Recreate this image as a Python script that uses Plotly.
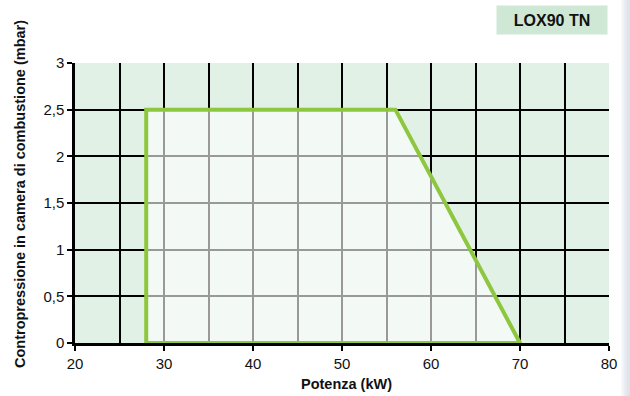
import plotly.graph_objects as go

# Working area of burner LOX90 TN
potenza_kw = [28, 28, 56, 70, 28]
contropressione_mbar = [0, 2.5, 2.5, 0, 0]

x_ticks = [20, 30, 40, 50, 60, 70, 80]
y_ticks = [0, 0.5, 1, 1.5, 2, 2.5, 3]
y_tick_labels = ["0", "0,5", "1", "1,5", "2", "2,5", "3"]

L, R, T, B = 75, 21, 63, 53
PW, PH = 630 - L - R, 396 - T - B

def px_x(px):
    return (px - L) / PW

def px_y(py):
    return (396 - B - py) / PH

fig = go.Figure()
fig.add_trace(go.Scatter(
    x=potenza_kw, y=contropressione_mbar,
    mode="lines", fill="toself",
    fillcolor="rgba(255,255,255,0.6)",
    line=dict(color="#8dc63f", width=4),
    hoverinfo="skip", showlegend=False,
))

# light gradient at the right edge of the page
n = 6
for i in range(n):
    fig.add_shape(type="rect", xref="paper", yref="paper",
                  x0=px_x(621 + i * 1.5), x1=px_x(630),
                  y0=px_y(396), y1=px_y(0), layer="below", line_width=0,
                  fillcolor="rgba(205,210,225,0.16)")

fig.add_annotation(
    text="<b>LOX90 TN</b>", xref="paper", yref="paper",
    x=px_x(552), y=px_y(20), xanchor="center", yanchor="middle",
    showarrow=False, font=dict(family="Liberation Sans, Arial", size=16, color="#111"),
    bgcolor="#cfe8d5", width=108, height=26,
)

fig.add_annotation(
    text="<b>Contropressione in camera di combustione (mbar)</b>",
    xref="paper", yref="paper", x=px_x(20), y=px_y(194),
    xanchor="center", yanchor="middle", textangle=-90, showarrow=False,
    font=dict(family="Liberation Sans, Arial", size=14.5, color="#111"),
)
fig.add_annotation(
    text="<b>Potenza (kW)</b>",
    xref="paper", yref="paper", x=px_x(346), y=px_y(384),
    xanchor="center", yanchor="middle", showarrow=False,
    font=dict(family="Liberation Sans, Arial", size=14.5, color="#111"),
)

fig.update_layout(
    width=630, height=396,
    margin=dict(l=L, r=R, t=T, b=B, autoexpand=False),
    paper_bgcolor="white",
    plot_bgcolor="#e2f1e5",
    separators=", ",
    font=dict(family="Liberation Sans, Arial", size=15, color="#111"),
    xaxis=dict(
        range=[20, 80], tickvals=x_ticks, ticks="outside", ticklen=5,
        tickwidth=2, tickcolor="black", automargin=False,
        showgrid=True, gridcolor="black", gridwidth=1.6,
        minor=dict(dtick=5, tick0=20, showgrid=True, gridcolor="black", gridwidth=1.6),
        showline=True, linecolor="black", linewidth=2.5,
        zeroline=False,
    ),
    yaxis=dict(
        range=[0, 3], tickvals=y_ticks, ticktext=y_tick_labels,
        ticks="outside", ticklen=5, tickwidth=2, tickcolor="black",
        automargin=False,
        showgrid=True, gridcolor="black", gridwidth=1.6,
        showline=True, linecolor="black", linewidth=2.5,
        zeroline=False,
    ),
)

fig.write_html(
    "out.html",
    config={"displayModeBar": False},
    post_script="document.body.style.margin='0';document.body.style.padding='0';",
)
